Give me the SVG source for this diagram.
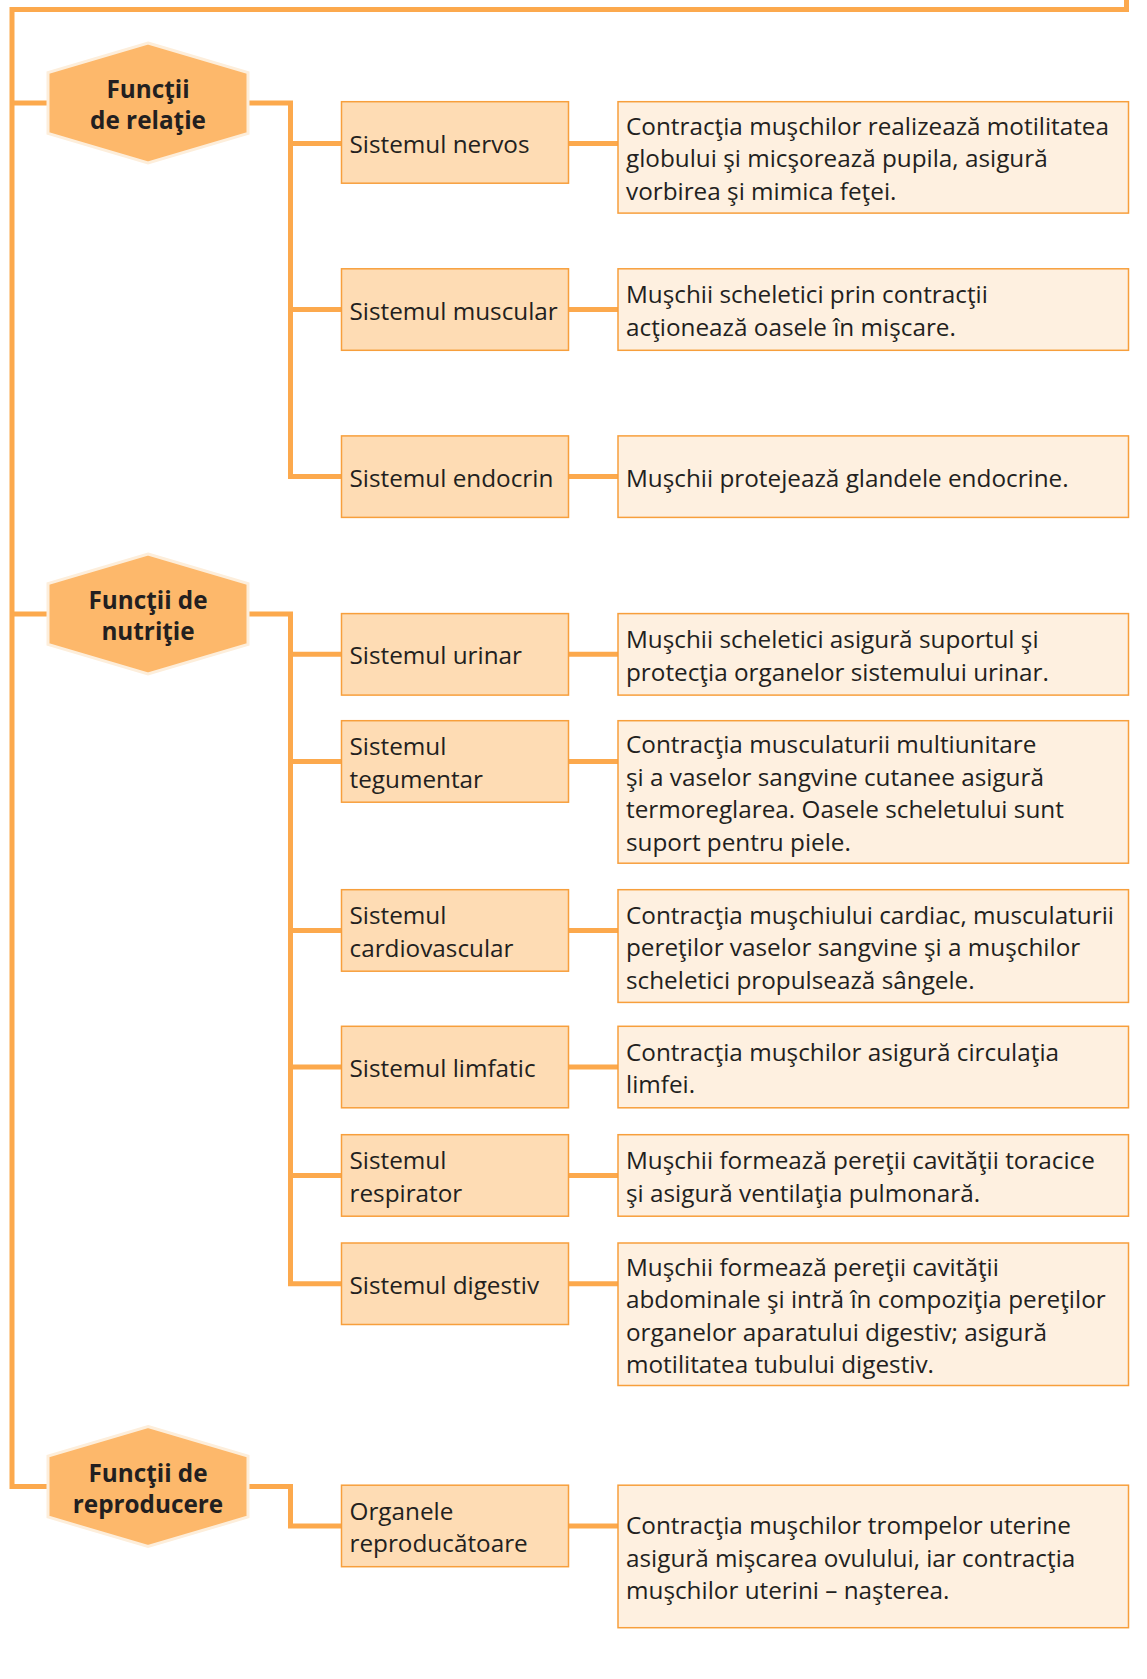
<svg xmlns="http://www.w3.org/2000/svg" width="1147" height="1679" viewBox="0 0 1147 1679">
<style>
.ln{fill:none;stroke:#fca94d;stroke-width:5;stroke-linejoin:miter}
.b2{fill:#fedcb4;stroke:#f79f3c;stroke-width:1.5}
.b3{fill:#fef0e0;stroke:#f79f3c;stroke-width:1.5}
.hx{fill:#fdb86b;stroke:#fdeedb;stroke-width:3}
.t{font-family:"Open Sans","Noto Sans",sans-serif;font-size:24.3px;fill:#231f20}
.th{font-family:"Open Sans","Noto Sans",sans-serif;font-size:24.3px;font-weight:bold;text-anchor:middle;fill:#231f20}
</style>
<rect width="1147" height="1679" fill="#ffffff"/>
<g id="connectors" class="ln">
<path d="M1126.5,0 V9.5 H12 V1486.5 H48"/>
<path d="M12,103 H48"/>
<path d="M12,614 H48"/>
<path d="M248,103 H290.5 V476.6 H341.5"/>
<path d="M290.5,143.5 H341.5"/>
<path d="M290.5,309.5 H341.5"/>
<path d="M248,614 H290.5 V1283.8 H341.5"/>
<path d="M290.5,654.3 H341.5"/>
<path d="M290.5,761.5 H341.5"/>
<path d="M290.5,930.4 H341.5"/>
<path d="M290.5,1067 H341.5"/>
<path d="M290.5,1175.4 H341.5"/>
<path d="M248,1486.5 H290.5 V1526 H341.5"/>
<path d="M568.5,143.5 H618"/>
<path d="M568.5,309.5 H618"/>
<path d="M568.5,476.6 H618"/>
<path d="M568.5,654.3 H618"/>
<path d="M568.5,761.5 H618"/>
<path d="M568.5,930.4 H618"/>
<path d="M568.5,1067 H618"/>
<path d="M568.5,1175.4 H618"/>
<path d="M568.5,1283.8 H618"/>
<path d="M568.5,1526 H618"/>
</g>
<g id="hex-relatie">
<polygon class="hx" points="148,43 248,72.5 248,133.5 148,163 48,133.5 48,72.5"/>
<text class="th"><tspan x="148" y="98">Funcţii</tspan><tspan x="148" y="129">de relaţie</tspan></text>
</g>
<g id="hex-nutritie">
<polygon class="hx" points="148,554 248,583.5 248,644.5 148,674 48,644.5 48,583.5"/>
<text class="th"><tspan x="148" y="609">Funcţii de</tspan><tspan x="148" y="640">nutriţie</tspan></text>
</g>
<g id="hex-reproducere">
<polygon class="hx" points="148,1426.5 248,1456 248,1517 148,1546.5 48,1517 48,1456"/>
<text class="th"><tspan x="148" y="1481.5">Funcţii de</tspan><tspan x="148" y="1512.5">reproducere</tspan></text>
</g>
<g id="sys-nervos">
<rect class="b2" x="341.5" y="101.7" width="227" height="81.5"/>
<text class="t" x="349.5" y="152.5">Sistemul nervos</text>
</g>
<g id="sys-muscular">
<rect class="b2" x="341.5" y="268.8" width="227" height="81.5"/>
<text class="t" x="349.5" y="319.5">Sistemul muscular</text>
</g>
<g id="sys-endocrin">
<rect class="b2" x="341.5" y="435.9" width="227" height="81.5"/>
<text class="t" x="349.5" y="486.6">Sistemul endocrin</text>
</g>
<g id="sys-urinar">
<rect class="b2" x="341.5" y="613.6" width="227" height="81.5"/>
<text class="t" x="349.5" y="664.3">Sistemul urinar</text>
</g>
<g id="sys-tegumentar">
<rect class="b2" x="341.5" y="720.7" width="227" height="81.5"/>
<text class="t"><tspan x="349.5" y="755">Sistemul</tspan><tspan x="349.5" y="787.5">tegumentar</tspan></text>
</g>
<g id="sys-cardiovascular">
<rect class="b2" x="341.5" y="889.7" width="227" height="81.5"/>
<text class="t"><tspan x="349.5" y="924">Sistemul</tspan><tspan x="349.5" y="956.5">cardiovascular</tspan></text>
</g>
<g id="sys-limfatic">
<rect class="b2" x="341.5" y="1026.3" width="227" height="81.5"/>
<text class="t" x="349.5" y="1077">Sistemul limfatic</text>
</g>
<g id="sys-respirator">
<rect class="b2" x="341.5" y="1134.7" width="227" height="81.5"/>
<text class="t"><tspan x="349.5" y="1169">Sistemul</tspan><tspan x="349.5" y="1201.5">respirator</tspan></text>
</g>
<g id="sys-digestiv">
<rect class="b2" x="341.5" y="1243" width="227" height="81.5"/>
<text class="t" x="349.5" y="1293.8">Sistemul digestiv</text>
</g>
<g id="sys-reproducator">
<rect class="b2" x="341.5" y="1485.2" width="227" height="81.5"/>
<text class="t"><tspan x="349.5" y="1519.5">Organele</tspan><tspan x="349.5" y="1552">reproducătoare</tspan></text>
</g>
<g id="desc-nervos">
<rect class="b3" x="618" y="101.7" width="510.5" height="111.4"/>
<text class="t"><tspan x="626" y="134.9">Contracţia muşchilor realizează motilitatea</tspan><tspan x="626" y="167.4">globului şi micşorează pupila, asigură</tspan><tspan x="626" y="199.9">vorbirea şi mimica feţei.</tspan></text>
</g>
<g id="desc-muscular">
<rect class="b3" x="618" y="268.8" width="510.5" height="81.5"/>
<text class="t"><tspan x="626" y="303.3">Muşchii scheletici prin contracţii</tspan><tspan x="626" y="335.8">acţionează oasele în mişcare.</tspan></text>
</g>
<g id="desc-endocrin">
<rect class="b3" x="618" y="435.9" width="510.5" height="81.5"/>
<text class="t" x="626" y="486.6">Muşchii protejează glandele endocrine.</text>
</g>
<g id="desc-urinar">
<rect class="b3" x="618" y="613.6" width="510.5" height="81.5"/>
<text class="t"><tspan x="626" y="648">Muşchii scheletici asigură suportul şi</tspan><tspan x="626" y="680.5">protecţia organelor sistemului urinar.</tspan></text>
</g>
<g id="desc-tegumentar">
<rect class="b3" x="618" y="720.7" width="510.5" height="142.5"/>
<text class="t"><tspan x="626" y="753.2">Contracţia musculaturii multiunitare</tspan><tspan x="626" y="785.7">şi a vaselor sangvine cutanee asigură</tspan><tspan x="626" y="818.2">termoreglarea. Oasele scheletului sunt</tspan><tspan x="626" y="850.7">suport pentru piele.</tspan></text>
</g>
<g id="desc-cardiovascular">
<rect class="b3" x="618" y="889.7" width="510.5" height="112.7"/>
<text class="t"><tspan x="626" y="923.5">Contracţia muşchiului cardiac, musculaturii</tspan><tspan x="626" y="956">pereţilor vaselor sangvine şi a muşchilor</tspan><tspan x="626" y="988.5">scheletici propulsează sângele.</tspan></text>
</g>
<g id="desc-limfatic">
<rect class="b3" x="618" y="1026.3" width="510.5" height="81.5"/>
<text class="t"><tspan x="626" y="1060.8">Contracţia muşchilor asigură circulaţia</tspan><tspan x="626" y="1093.3">limfei.</tspan></text>
</g>
<g id="desc-respirator">
<rect class="b3" x="618" y="1134.7" width="510.5" height="81.5"/>
<text class="t"><tspan x="626" y="1169.2">Muşchii formează pereţii cavităţii toracice</tspan><tspan x="626" y="1201.7">şi asigură ventilaţia pulmonară.</tspan></text>
</g>
<g id="desc-digestiv">
<rect class="b3" x="618" y="1243" width="510.5" height="142.5"/>
<text class="t"><tspan x="626" y="1275.5">Muşchii formează pereţii cavităţii</tspan><tspan x="626" y="1308">abdominale şi intră în compoziţia pereţilor</tspan><tspan x="626" y="1340.5">organelor aparatului digestiv; asigură</tspan><tspan x="626" y="1373">motilitatea tubului digestiv.</tspan></text>
</g>
<g id="desc-reproducator">
<rect class="b3" x="618" y="1485.2" width="510.5" height="142.5"/>
<text class="t"><tspan x="626" y="1534">Contracţia muşchilor trompelor uterine</tspan><tspan x="626" y="1566.5">asigură mişcarea ovulului, iar contracţia</tspan><tspan x="626" y="1599">muşchilor uterini – naşterea.</tspan></text>
</g>
</svg>
